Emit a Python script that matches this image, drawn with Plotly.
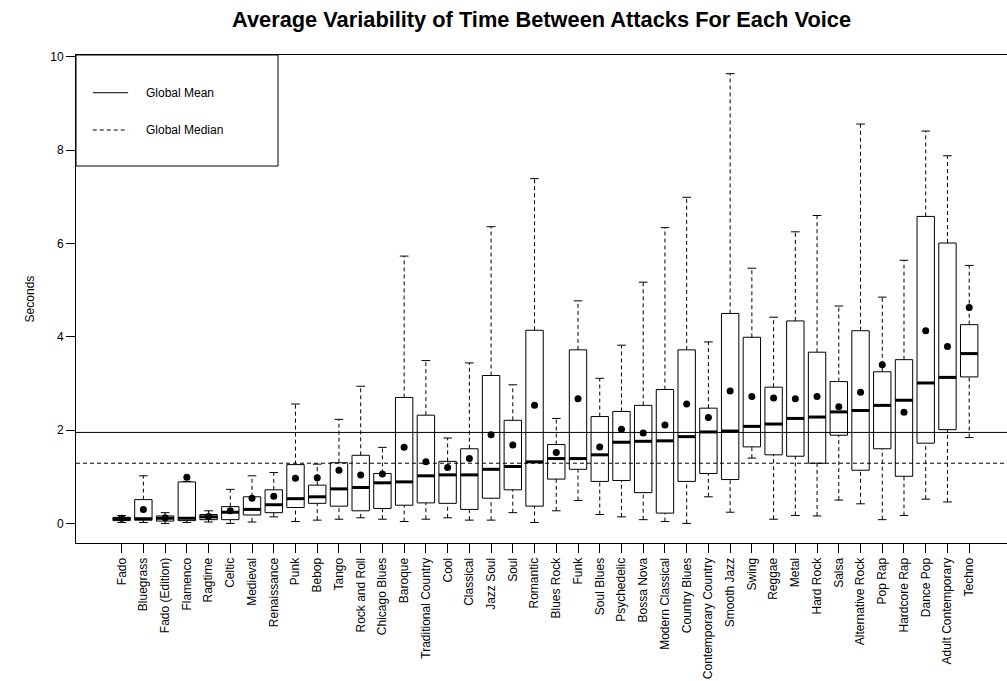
import plotly.graph_objects as go

categories = ["Fado", "Bluegrass", "Fado (Edition)", "Flamenco", "Ragtime", "Celtic",
              "Medieval", "Renaissance", "Punk", "Bebop", "Tango", "Rock and Roll",
              "Chicago Blues", "Baroque", "Traditional Country", "Cool", "Classical",
              "Jazz Soul", "Soul", "Romantic", "Blues Rock", "Funk", "Soul Blues",
              "Psychedelic", "Bossa Nova", "Modern Classical", "Country Blues",
              "Contemporary Country", "Smooth Jazz", "Swing", "Reggae", "Metal",
              "Hard Rock", "Salsa", "Alternative Rock", "Pop Rap", "Hardcore Rap",
              "Dance Pop", "Adult Contemporary", "Techno"]

lower_whisker = [0.02, 0.02, 0.00, 0.02, 0.03, 0.00, 0.03, 0.14, 0.04, 0.07,
                 0.09, 0.12, 0.09, 0.04, 0.09, 0.12, 0.07, 0.07, 0.23, 0.02,
                 0.27, 0.49, 0.19, 0.14, 0.08, 0.04, 0.00, 0.57, 0.24, 1.40,
                 0.09, 0.17, 0.16, 0.50, 0.42, 0.08, 0.17, 0.52, 0.46, 1.84]
q1 = [0.06, 0.07, 0.05, 0.06, 0.08, 0.08, 0.18, 0.23, 0.34, 0.43,
      0.37, 0.27, 0.32, 0.39, 0.44, 0.43, 0.30, 0.54, 0.72, 0.37,
      0.95, 1.16, 0.90, 0.92, 0.66, 0.22, 0.90, 1.07, 0.94, 1.64,
      1.47, 1.44, 1.29, 1.89, 1.14, 1.60, 1.01, 1.72, 2.01, 3.14]
median = [0.10, 0.10, 0.11, 0.11, 0.14, 0.24, 0.30, 0.40, 0.53, 0.57,
          0.74, 0.77, 0.87, 0.89, 1.02, 1.04, 1.04, 1.16, 1.22, 1.32,
          1.39, 1.39, 1.47, 1.74, 1.76, 1.77, 1.86, 1.96, 1.98, 2.08,
          2.13, 2.25, 2.28, 2.39, 2.42, 2.53, 2.64, 3.01, 3.13, 3.64]
q3 = [0.13, 0.51, 0.16, 0.89, 0.19, 0.36, 0.57, 0.72, 1.26, 0.82,
      1.30, 1.46, 1.07, 2.70, 2.32, 1.33, 1.60, 3.17, 2.21, 4.14,
      1.69, 3.72, 2.29, 2.40, 2.53, 2.87, 3.72, 2.47, 4.50, 3.99,
      2.92, 4.34, 3.67, 3.04, 4.13, 3.25, 3.51, 6.58, 6.01, 4.26]
upper_whisker = [0.17, 1.02, 0.23, 0.90, 0.27, 0.73, 1.02, 1.09, 2.56, 1.27,
                 2.23, 2.94, 1.63, 5.73, 3.49, 1.83, 3.44, 6.36, 2.97, 7.39,
                 2.25, 4.77, 3.11, 3.82, 5.17, 6.34, 6.99, 3.89, 9.64, 5.47,
                 4.42, 6.25, 6.60, 4.66, 8.56, 4.85, 5.64, 8.41, 7.88, 5.53]
means = [0.11, 0.30, 0.12, 0.99, 0.15, 0.27, 0.54, 0.58, 0.97, 0.98,
         1.14, 1.04, 1.06, 1.63, 1.32, 1.20, 1.39, 1.90, 1.68, 2.53,
         1.52, 2.67, 1.64, 2.02, 1.94, 2.11, 2.56, 2.27, 2.84, 2.72,
         2.69, 2.67, 2.72, 2.50, 2.81, 3.40, 2.38, 4.13, 3.79, 4.63]

global_mean = 1.95
global_median = 1.29

y_ticks = [0, 2, 4, 6, 8, 10]

FONT = "Liberation Sans, Arial, Helvetica, sans-serif"
HALF_BOX = 0.4
HALF_CAP = 0.2

pos = list(range(len(categories)))

box_x, box_y = [], []
wh_x, wh_y = [], []
cap_x, cap_y = [], []
med_x, med_y = [], []
for i in pos:
    box_x += [i - HALF_BOX, i + HALF_BOX, i + HALF_BOX, i - HALF_BOX, i - HALF_BOX, None]
    box_y += [q1[i], q1[i], q3[i], q3[i], q1[i], None]
    wh_x += [i, i, None, i, i, None]
    wh_y += [q3[i], upper_whisker[i], None, lower_whisker[i], q1[i], None]
    cap_x += [i - HALF_CAP, i + HALF_CAP, None, i - HALF_CAP, i + HALF_CAP, None]
    cap_y += [upper_whisker[i], upper_whisker[i], None, lower_whisker[i], lower_whisker[i], None]
    med_x += [i - HALF_BOX, i + HALF_BOX, None]
    med_y += [median[i], median[i], None]

fig = go.Figure()
fig.add_trace(go.Scatter(x=wh_x, y=wh_y, mode="lines",
                         line=dict(color="black", width=1, dash="4px,3px"),
                         hoverinfo="skip", showlegend=False))
fig.add_trace(go.Scatter(x=cap_x, y=cap_y, mode="lines",
                         line=dict(color="black", width=1),
                         hoverinfo="skip", showlegend=False))
fig.add_trace(go.Scatter(x=box_x, y=box_y, mode="lines",
                         line=dict(color="black", width=1),
                         hoverinfo="skip", showlegend=False))
fig.add_trace(go.Scatter(x=med_x, y=med_y, mode="lines",
                         line=dict(color="black", width=3),
                         hoverinfo="skip", showlegend=False))
fig.add_trace(go.Scatter(x=pos, y=means, mode="markers",
                         marker=dict(color="black", size=7, symbol="circle"),
                         showlegend=False))

# global mean / median reference lines (abline style across the plot)
fig.add_shape(type="line", xref="paper", x0=0, x1=1, yref="y",
              y0=global_mean, y1=global_mean, line=dict(color="black", width=1))
fig.add_shape(type="line", xref="paper", x0=0, x1=1, yref="y",
              y0=global_median, y1=global_median,
              line=dict(color="black", width=1, dash="4px,3px"))

# legend box (top-left of the plot region)
fig.add_shape(type="rect", xref="paper", yref="paper", x0=0, x1=0.217, y0=0.7725, y1=1.0,
              line=dict(color="black", width=1), fillcolor="white")
fig.add_shape(type="line", xref="paper", yref="paper", x0=0.018, x1=0.056, y0=0.9227, y1=0.9227,
              line=dict(color="black", width=1))
fig.add_shape(type="line", xref="paper", yref="paper", x0=0.018, x1=0.056, y0=0.8463, y1=0.8463,
              line=dict(color="black", width=1, dash="4px,3px"))
fig.add_annotation(xref="paper", yref="paper", x=0.073, y=0.9227, text="Global Mean",
                   showarrow=False, xanchor="left", yanchor="middle",
                   font=dict(family=FONT, size=12, color="black"))
fig.add_annotation(xref="paper", yref="paper", x=0.073, y=0.8463, text="Global Median",
                   showarrow=False, xanchor="left", yanchor="middle",
                   font=dict(family=FONT, size=12, color="black"))

# y-axis title
fig.add_annotation(xref="paper", yref="paper", x=-0.049, y=0.5, text="Seconds",
                   textangle=-90, showarrow=False, xanchor="center", yanchor="middle",
                   font=dict(family=FONT, size=12, color="black"))

fig.update_layout(
    width=1007, height=681,
    margin=dict(l=76, r=0, t=55, b=138),
    paper_bgcolor="white", plot_bgcolor="white",
    font=dict(family=FONT, size=12, color="black"),
    title=dict(text="<b>Average Variability of Time Between Attacks For Each Voice</b>",
               x=0.5, xref="paper", xanchor="center",
               y=1 - 19 / 681, yref="container", yanchor="middle",
               font=dict(family=FONT, size=21.8, color="black")),
    showlegend=False,
)
fig.update_xaxes(range=[-2.10, 40.74], tickmode="array", tickvals=pos, ticktext=categories,
                 tickangle=-90, ticks="outside", ticklen=9, tickcolor="black", tickwidth=1,
                 showline=True, linecolor="black", linewidth=1, mirror=True,
                 showgrid=False, zeroline=False, tickfont=dict(family=FONT, size=12))
fig.update_yaxes(range=[-0.42, 10.04], tickmode="array", tickvals=y_ticks,
                 ticktext=[str(v) for v in y_ticks],
                 ticks="outside", ticklen=9, tickcolor="black", tickwidth=1,
                 showline=True, linecolor="black", linewidth=1,
                 showgrid=False, zeroline=False, tickfont=dict(family=FONT, size=12))

fig.write_html("out.html")
